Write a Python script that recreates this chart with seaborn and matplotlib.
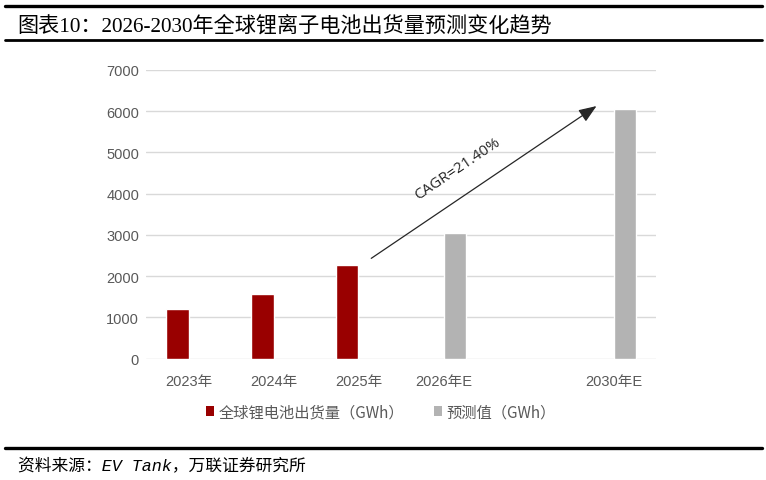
import matplotlib
matplotlib.use("Agg")
import matplotlib.pyplot as plt
import seaborn as sns
import pandas as pd
from matplotlib.patches import Patch
from matplotlib.lines import Line2D

# ---- data ----
categories = ["2023年", "2024年", "2025年", "2026年E", " ", "2030年E"]
actual_years = ["2023年", "2024年", "2025年"]
actual_values = [1205, 1555, 2270]
forecast_years = ["2026年E", "2030年E"]
forecast_values = [3035, 6045]
series_names = ["全球锂电池出货量（GWh）", "预测值（GWh）"]
cagr_label = "CAGR=21.40%"
title_text = "图表10：2026-2030年全球锂离子电池出货量预测变化趋势"
source_text = "资料来源：EV Tank，万联证券研究所"
y_ticks = [0, 1000, 2000, 3000, 4000, 5000, 6000, 7000]

df = pd.DataFrame({
    "year": actual_years + forecast_years,
    "value": actual_values + forecast_values,
    "series": [series_names[0]] * len(actual_years) + [series_names[1]] * len(forecast_years),
})

sns.set_theme(style="white")
plt.rcParams["font.family"] = ["Liberation Sans", "Noto Sans CJK SC", "DejaVu Sans"]

W, H = 766, 481
fig = plt.figure(figsize=(W / 100, H / 100), dpi=100)
ax = fig.add_axes([146 / W, 1 - 359.5 / H, (656 - 146) / W, (359.5 - 71) / H])

red = "#990000"
gray = "#B3B3B3"
sns.barplot(data=df, x="year", y="value", hue="series", order=categories,
            hue_order=series_names, palette=[red, gray], width=0.52,
            dodge=True, gap=0, ax=ax, legend=False, saturation=1)

ax.set_ylim(0, 7000)
ax.set_xlim(-0.5, len(categories) - 0.5)
ax.set_yticks(y_ticks)
ax.set_yticklabels([str(v) for v in y_ticks])
ax.yaxis.grid(True, color="#D9D9D9", linewidth=1.0)
ax.set_axisbelow(True)
for s in ax.spines.values():
    s.set_visible(False)
ax.tick_params(axis="both", length=0, colors="#595959", labelsize=10.5)
ax.tick_params(axis="y", pad=5)
ax.tick_params(axis="x", pad=11)
ax.set_xlabel("")
ax.set_ylabel("")

# CAGR arrow from after 2025 to 2030E
i25 = categories.index("2025年")
i30 = categories.index("2030年E")
start = (i25 + 0.15, actual_values[-1] + 160)
end = (i30 - 0.20, forecast_values[-1] + 80)
ax.annotate("", xy=end, xytext=start,
            arrowprops=dict(arrowstyle="-|>,head_length=0.9,head_width=0.35",
                            color="#262626", lw=0.9, shrinkA=0, shrinkB=0))
frac = 0.385
mid_x = start[0] + frac * (end[0] - start[0])
mid_y = start[1] + frac * (end[1] - start[1]) + 770
ax.text(mid_x, mid_y, cagr_label, rotation=34, rotation_mode="anchor",
        ha="center", va="center", fontsize=11, color="#262626",
        family=["Open Sans", "DejaVu Sans"])

# legend
handles = [Patch(facecolor=red, edgecolor="none"), Patch(facecolor=gray, edgecolor="none")]
leg = fig.legend(handles, series_names, loc="center", bbox_to_anchor=(381 / W, 1 - 413 / H),
                 ncol=2, frameon=False, handlelength=0.55, handleheight=0.55,
                 handletextpad=0.3, columnspacing=1.9,
                 prop={"family": ["Noto Sans CJK SC"], "size": 11})
for t in leg.get_texts():
    t.set_color("#595959")

# title block lines
fig.add_artist(Line2D([5 / W, 762 / W], [1 - 7 / H, 1 - 7 / H], transform=fig.transFigure,
                      color="black", lw=2.4))
fig.add_artist(Line2D([5 / W, 762 / W], [1 - 41 / H, 1 - 41 / H], transform=fig.transFigure,
                      color="black", lw=2.0))
fig.text(17 / W, 1 - 26 / H, title_text, ha="left", va="center", fontsize=15.2,
         color="black", family=["Liberation Serif", "Noto Sans CJK SC"])

# footer
fig.add_artist(Line2D([5 / W, 762 / W], [1 - 449 / H, 1 - 449 / H], transform=fig.transFigure,
                      color="black", lw=2.4))
fig.text(18 / W, 1 - 466 / H, source_text, ha="left", va="center", fontsize=12.1,
         color="black", style="italic",
         family=["Liberation Mono", "Noto Sans CJK SC"])

fig.savefig("out.png", dpi=100)
